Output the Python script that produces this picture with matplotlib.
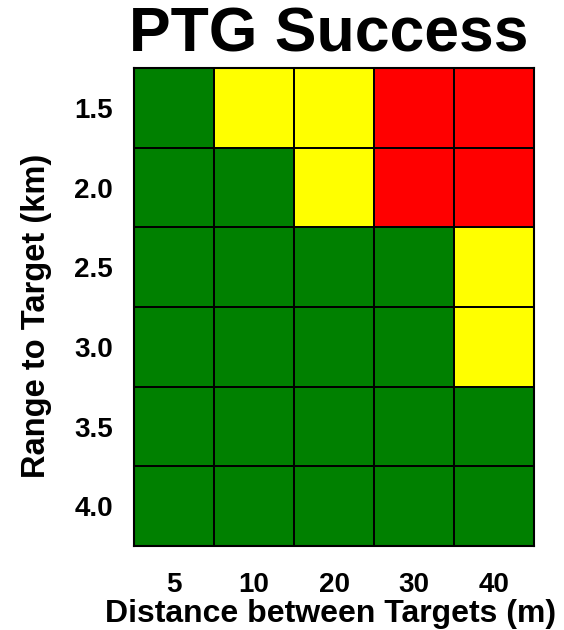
#!/usr/bin/env python3
"""Heat-map style grid of PTG success by range and target spacing."""
import matplotlib
matplotlib.use("Agg")
import matplotlib.pyplot as plt
from matplotlib.colors import ListedColormap
import numpy as np

distances = ["5", "10", "20", "30", "40"]
ranges = ["1.5", "2.0", "2.5", "3.0", "3.5", "4.0"]
# 0 = success (green), 1 = marginal (yellow), 2 = failure (red)
success = [
    [0, 1, 1, 2, 2],
    [0, 0, 1, 2, 2],
    [0, 0, 0, 0, 1],
    [0, 0, 0, 0, 1],
    [0, 0, 0, 0, 0],
    [0, 0, 0, 0, 0],
]
colours = ["#008000", "#FFFF00", "#FF0000"]


def plot_success():
    plt.rcParams['font.family'] = ['Liberation Sans', 'DejaVu Sans']
    fig = plt.figure(figsize=(5.64, 6.30), dpi=100)
    ax = fig.add_axes([0.2376, 0.1333, 0.7092, 0.7587])
    ax.pcolormesh(np.array(success), cmap=ListedColormap(colours),
                  vmin=-0.5, vmax=2.5, edgecolors="black", linewidth=1.2)
    ax.set_xlim(0, len(distances))
    ax.set_ylim(len(ranges), 0)
    ax.set_xticks(np.arange(len(distances)) + 0.5)
    ax.set_xticklabels(distances)
    ax.set_yticks(np.arange(len(ranges)) + 0.5)
    ax.set_yticklabels(ranges)
    ax.tick_params(axis="x", length=0, labelsize=20, pad=19)
    ax.tick_params(axis="y", length=0, labelsize=20, pad=15)
    for lab in ax.get_xticklabels() + ax.get_yticklabels():
        lab.set_fontweight("bold")
    for sp in ax.spines.values():
        sp.set_linewidth(1.5)
    # axis titles placed directly on the figure to match the original layout
    fig.text(331 / 564, 1 - 614 / 630, "Distance between Targets (m)",
             ha="center", va="center", fontsize=23, fontweight="bold")
    fig.text(37 / 564, 1 - 316 / 630, "Range to Target (km)",
             ha="center", va="center", rotation=90,
             fontsize=23.5, fontweight="bold")
    fig.text(0.583, 0.945, "PTG Success", ha="center", va="center",
             fontsize=45, fontweight="bold")
    fig.savefig("out.png")


if __name__ == '__main__':
    plot_success()
